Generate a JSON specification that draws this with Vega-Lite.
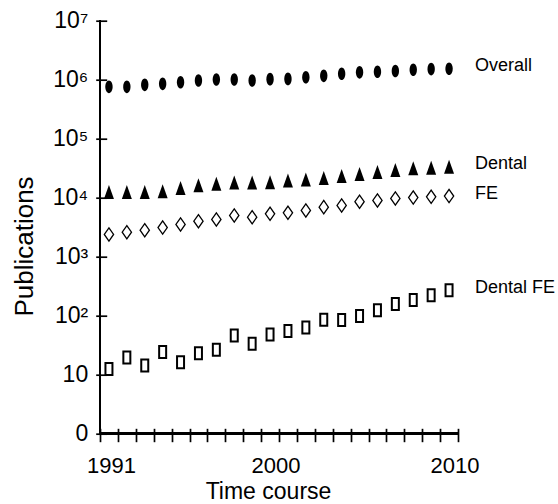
{
  "$schema": "https://vega.github.io/schema/vega-lite/v6.json",
  "autosize": "none",
  "width": 358,
  "height": 412.6,
  "padding": {"left": 100, "top": 20.7, "right": 100, "bottom": 70.7},
  "background": "white",
  "view": {"stroke": null},
  "config": {"font": "Liberation Sans"},
  "data": {"values": [
    {"year": 1991, "series": "Overall", "value": 755000},
    {"year": 1992, "series": "Overall", "value": 755000},
    {"year": 1993, "series": "Overall", "value": 816000},
    {"year": 1994, "series": "Overall", "value": 849000},
    {"year": 1995, "series": "Overall", "value": 906000},
    {"year": 1996, "series": "Overall", "value": 969000},
    {"year": 1997, "series": "Overall", "value": 1008000},
    {"year": 1998, "series": "Overall", "value": 1008000},
    {"year": 1999, "series": "Overall", "value": 969000},
    {"year": 2000, "series": "Overall", "value": 1020000},
    {"year": 2001, "series": "Overall", "value": 1030000},
    {"year": 2002, "series": "Overall", "value": 1100000},
    {"year": 2003, "series": "Overall", "value": 1160000},
    {"year": 2004, "series": "Overall", "value": 1260000},
    {"year": 2005, "series": "Overall", "value": 1330000},
    {"year": 2006, "series": "Overall", "value": 1360000},
    {"year": 2007, "series": "Overall", "value": 1400000},
    {"year": 2008, "series": "Overall", "value": 1470000},
    {"year": 2009, "series": "Overall", "value": 1510000},
    {"year": 2010, "series": "Overall", "value": 1530000},
    {"year": 1991, "series": "Dental", "value": 12400},
    {"year": 1992, "series": "Dental", "value": 12400},
    {"year": 1993, "series": "Dental", "value": 12400},
    {"year": 1994, "series": "Dental", "value": 12800},
    {"year": 1995, "series": "Dental", "value": 14500},
    {"year": 1996, "series": "Dental", "value": 16100},
    {"year": 1997, "series": "Dental", "value": 17200},
    {"year": 1998, "series": "Dental", "value": 17900},
    {"year": 1999, "series": "Dental", "value": 17900},
    {"year": 2000, "series": "Dental", "value": 18100},
    {"year": 2001, "series": "Dental", "value": 19500},
    {"year": 2002, "series": "Dental", "value": 20300},
    {"year": 2003, "series": "Dental", "value": 21400},
    {"year": 2004, "series": "Dental", "value": 23100},
    {"year": 2005, "series": "Dental", "value": 25000},
    {"year": 2006, "series": "Dental", "value": 27000},
    {"year": 2007, "series": "Dental", "value": 29200},
    {"year": 2008, "series": "Dental", "value": 31300},
    {"year": 2009, "series": "Dental", "value": 32100},
    {"year": 2010, "series": "Dental", "value": 33400},
    {"year": 1991, "series": "FE", "value": 2360},
    {"year": 1992, "series": "FE", "value": 2580},
    {"year": 1993, "series": "FE", "value": 2790},
    {"year": 1994, "series": "FE", "value": 3100},
    {"year": 1995, "series": "FE", "value": 3490},
    {"year": 1996, "series": "FE", "value": 3970},
    {"year": 1997, "series": "FE", "value": 4240},
    {"year": 1998, "series": "FE", "value": 4960},
    {"year": 1999, "series": "FE", "value": 4640},
    {"year": 2000, "series": "FE", "value": 5300},
    {"year": 2001, "series": "FE", "value": 5510},
    {"year": 2002, "series": "FE", "value": 6040},
    {"year": 2003, "series": "FE", "value": 6870},
    {"year": 2004, "series": "FE", "value": 7340},
    {"year": 2005, "series": "FE", "value": 8490},
    {"year": 2006, "series": "FE", "value": 8930},
    {"year": 2007, "series": "FE", "value": 9660},
    {"year": 2008, "series": "FE", "value": 10000},
    {"year": 2009, "series": "FE", "value": 10300},
    {"year": 2010, "series": "FE", "value": 10600},
    {"year": 1991, "series": "Dental FE", "value": 12.3},
    {"year": 1992, "series": "Dental FE", "value": 19.3},
    {"year": 1993, "series": "Dental FE", "value": 14.1},
    {"year": 1994, "series": "Dental FE", "value": 23.9},
    {"year": 1995, "series": "Dental FE", "value": 16.1},
    {"year": 1996, "series": "Dental FE", "value": 22.9},
    {"year": 1997, "series": "Dental FE", "value": 26.1},
    {"year": 1998, "series": "Dental FE", "value": 45.7},
    {"year": 1999, "series": "Dental FE", "value": 33.0},
    {"year": 2000, "series": "Dental FE", "value": 47.5},
    {"year": 2001, "series": "Dental FE", "value": 54.3},
    {"year": 2002, "series": "Dental FE", "value": 62.5},
    {"year": 2003, "series": "Dental FE", "value": 84.5},
    {"year": 2004, "series": "Dental FE", "value": 83.5},
    {"year": 2005, "series": "Dental FE", "value": 97.7},
    {"year": 2006, "series": "Dental FE", "value": 122},
    {"year": 2007, "series": "Dental FE", "value": 156},
    {"year": 2008, "series": "Dental FE", "value": 183},
    {"year": 2009, "series": "Dental FE", "value": 219},
    {"year": 2010, "series": "Dental FE", "value": 266}
  ]},
  "encoding": {
    "x": {
      "field": "year", "type": "quantitative",
      "scale": {"domain": [1990.5, 2010.5], "nice": false, "zero": false},
      "axis": {
        "values": [1990.5, 1991.5, 1992.5, 1993.5, 1994.5, 1995.5, 1996.5, 1997.5, 1998.5, 1999.5, 2000.5, 2001.5, 2002.5, 2003.5, 2004.5, 2005.5, 2006.5, 2007.5, 2008.5, 2009.5, 2010.5],
        "labelExpr": "datum.value == 1990.5 ? '1991' : datum.value == 2000.5 ? '2000' : datum.value == 2010.5 ? '2010' : ''",
        "labelOffset": {"condition": {"test": "datum.value < 1991", "value": 11}, "value": -3.5},
        "domain": false, "grid": false, "offset": -5,
        "tickSize": 13.4, "tickWidth": 1.7, "tickColor": "black",
        "labelPadding": 14, "labelFontSize": 22, "labelColor": "black",
        "labelFlush": false, "labelOverlap": false, "labelBound": false,
        "title": "Time course", "titleFontSize": 23, "titleFontWeight": "normal", "titleColor": "black",
        "titleX": 168, "titleY": 52, "titleBaseline": "top", "titleAlign": "center"
      }
    },
    "y": {
      "field": "value", "type": "quantitative",
      "scale": {"type": "log", "domain": [1, 10000000], "nice": false},
      "axis": {
        "values": [1, 10, 100, 1000, 10000, 100000, 1000000, 10000000],
        "labelExpr": "datum.value == 1 ? '0' : datum.value == 10 ? '10' : datum.value == 100 ? '10²' : datum.value == 1000 ? '10³' : datum.value == 10000 ? '10⁴' : datum.value == 100000 ? '10⁵' : datum.value == 1000000 ? '10⁶' : '10⁷'",
        "domain": false, "grid": false, "offset": -6.7,
        "tickSize": 11, "tickWidth": 1.7, "tickColor": "black",
        "labelPadding": 8, "labelFontSize": 23, "labelColor": "black",
        "labelFlush": false, "labelOverlap": false, "labelBound": false,
        "title": "Publications", "titleFontSize": 26, "titleFontWeight": "normal", "titleColor": "black",
        "titleX": -82.7, "titleY": 225.3, "titleBaseline": "middle", "titleAlign": "center", "titleAngle": -90
      }
    }
  },
  "layer": [
    {
      "mark": {"type": "rule", "color": "black", "strokeWidth": 1.7},
      "encoding": {"x": {"datum": 1990.5, "type": "quantitative"}, "y": null}
    },
    {
      "mark": {"type": "rule", "color": "black", "strokeWidth": 1.7},
      "encoding": {"y": {"datum": 1, "type": "quantitative"}, "x": null}
    },
    {
      "transform": [{"filter": "datum.series == 'Overall'"}],
      "mark": {"type": "point", "filled": true, "fill": "black", "stroke": null, "opacity": 1, "size": 110,
        "shape": "M0,-1.2A0.7,1.2 0 1,1 0,1.2A0.7,1.2 0 1,1 0,-1.2Z"}
    },
    {
      "transform": [{"filter": "datum.series == 'Dental'"}],
      "mark": {"type": "point", "filled": true, "fill": "black", "stroke": null, "opacity": 1, "size": 100,
        "shape": "M0,-1.4L1,1.4L-1,1.4Z"}
    },
    {
      "transform": [{"filter": "datum.series == 'FE'"}],
      "mark": {"type": "point", "filled": false, "fill": "white", "fillOpacity": 1, "stroke": "black", "strokeWidth": 1.3, "opacity": 1, "size": 100,
        "shape": "M0,-1.33L0.93,0L0,1.33L-0.93,0Z"}
    },
    {
      "transform": [{"filter": "datum.series == 'Dental FE'"}],
      "mark": {"type": "point", "filled": false, "fill": "white", "fillOpacity": 1, "stroke": "black", "strokeWidth": 2, "opacity": 1, "size": 100,
        "shape": "M-0.7,-1.2L0.7,-1.2L0.7,1.2L-0.7,1.2Z"}
    },
    {
      "transform": [{"filter": "datum.year == 2010"}],
      "mark": {"type": "text", "align": "left", "baseline": "middle", "dx": 26, "dy": -2.5, "fontSize": 18, "color": "black"},
      "encoding": {"text": {"field": "series"}}
    }
  ]
}
